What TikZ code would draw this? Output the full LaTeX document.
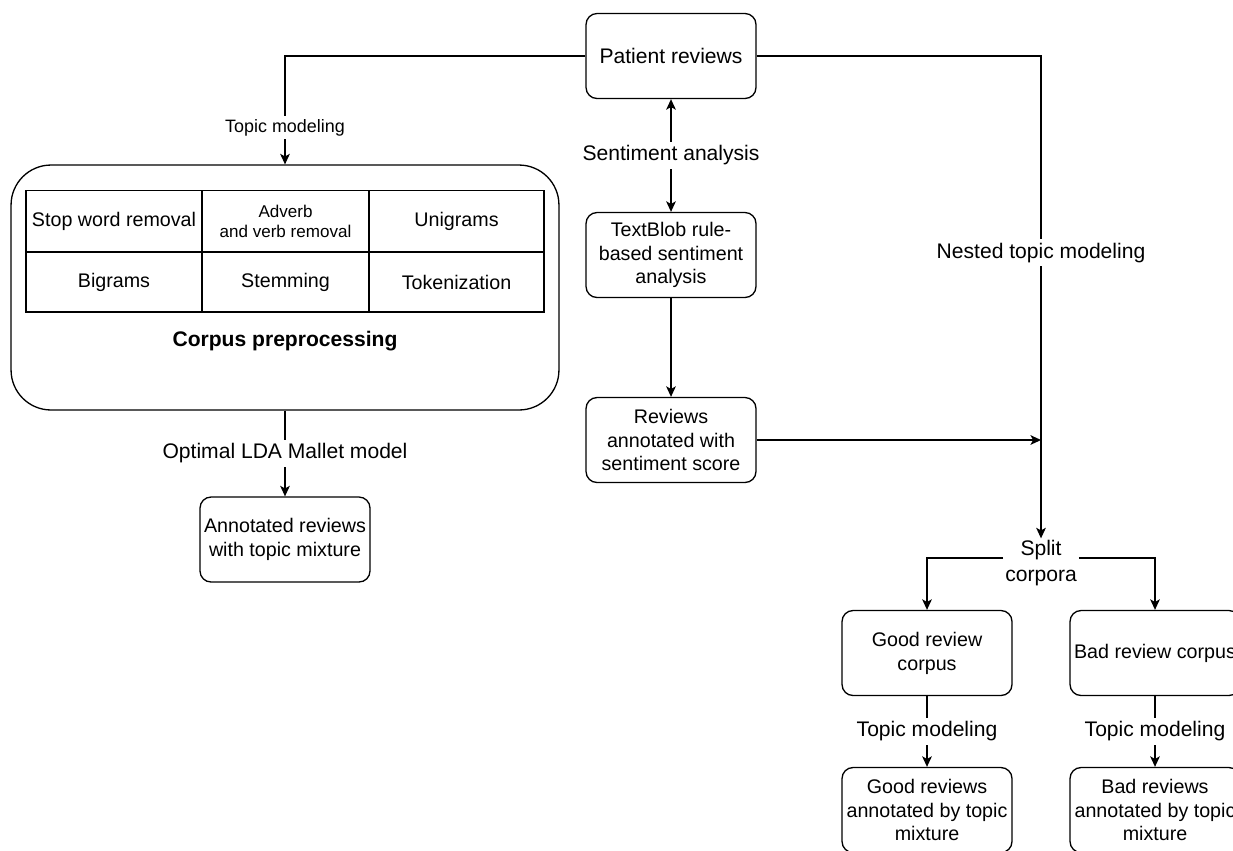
\documentclass[tikz,border=0pt]{standalone}
\usepackage{fontspec}
\setsansfont{Liberation Sans}
\usetikzlibrary{arrows.meta}

\begin{document}
\begin{tikzpicture}[
      x=0.02cm, y=-0.02cm,
      >={Stealth[length=6pt, width=5.5pt, inset=1.5pt]},
      font=\sffamily,
      box/.style={draw, rounded corners=0.22cm, line width=0.75pt,
        minimum width=3.4cm, minimum height=1.7cm, align=center,
        inner sep=1pt, font=\sffamily\fontsize{11.2}{13.6}\selectfont},
      cell/.style={draw, line width=0.75pt, minimum height=1.22cm, align=center,
        inner sep=1pt, font=\sffamily\fontsize{11.2}{13.6}\selectfont},
      lbl/.style={fill=white, inner sep=2pt, align=center,
        font=\sffamily\fontsize{12}{14.5}\selectfont},
      arr/.style={->, line width=0.75pt},
    ]
      \useasboundingbox (0,0) rectangle (1233,850);

      % source
      \node[box, font=\sffamily\fontsize{12}{14.5}\selectfont] (pat) at (671,56) {Patient reviews};

      % corpus preprocessing (left branch)
      \node[draw, rounded corners=0.8cm, line width=0.75pt, minimum width=10.96cm,
        minimum height=4.9cm] (corpus) at (285,287.5) {};
      \node[cell, minimum width=3.52cm] (stop) at (114,221) {Stop word removal};
      \node[cell, minimum width=3.34cm, font=\sffamily\fontsize{9.7}{11.5}\selectfont]
        (adverb) at (285.5,221) {Adverb\\and verb removal};
      \node[cell, minimum width=3.5cm] (uni) at (456.5,221) {Unigrams};
      \node[cell, minimum width=3.52cm, minimum height=1.2cm] (bi) at (114,282) {Bigrams};
      \node[cell, minimum width=3.34cm, minimum height=1.2cm] (stem) at (285.5,282) {Stemming};
      \node[cell, minimum width=3.5cm, minimum height=1.2cm] (tok) at (456.5,282) {Tokenization};
      \node[font=\sffamily\bfseries\fontsize{12}{14.5}\selectfont] (prep) at (285,341) {Corpus preprocessing};
      \node[box] (annot) at (285,539.5) {Annotated reviews\\with topic mixture};

      % sentiment (middle branch)
      \node[box] (tb) at (671,255) {TextBlob rule-\\based sentiment\\analysis};
      \node[box] (rev) at (671,440) {Reviews\\annotated with\\sentiment score};

      % nested topic modeling (right branch)
      \coordinate (join) at (1041,440);
      \node[lbl, inner sep=1pt] (split) at (1041,563) {Split\\corpora};
      \node[box] (good) at (927,653) {Good review\\corpus};
      \node[box] (bad) at (1155,653) {Bad review corpus};
      \node[box] (goodtm) at (927,810) {Good reviews\\annotated by topic\\mixture};
      \node[box] (badtm) at (1155,810) {Bad reviews\\annotated by topic\\mixture};

      % connectors
      \draw[arr] (pat.west) -| node[lbl, pos=0.83, font=\sffamily\fontsize{10.2}{12}\selectfont]
        {Topic modeling} (corpus.north);
      \draw[arr] (corpus.south) -- node[lbl] {Optimal LDA Mallet model} (annot.north);
      \draw[<->, line width=0.75pt] (pat.south) -- node[lbl] {Sentiment analysis} (tb.north);
      \draw[arr] (tb.south) -- (rev.north);
      \draw[arr] (rev.east) -- (join);
      \draw[arr] (pat.east) -| node[lbl, pos=0.704] {Nested topic modeling} (split.north);
      \draw[arr] ([yshift=0.1cm]split.west) -| (good.north);
      \draw[arr] ([yshift=0.1cm]split.east) -| (bad.north);
      \draw[arr] (good.south) -- node[lbl] {Topic modeling} (goodtm.north);
      \draw[arr] (bad.south) -- node[lbl] {Topic modeling} (badtm.north);

    \end{tikzpicture}
\end{document}
